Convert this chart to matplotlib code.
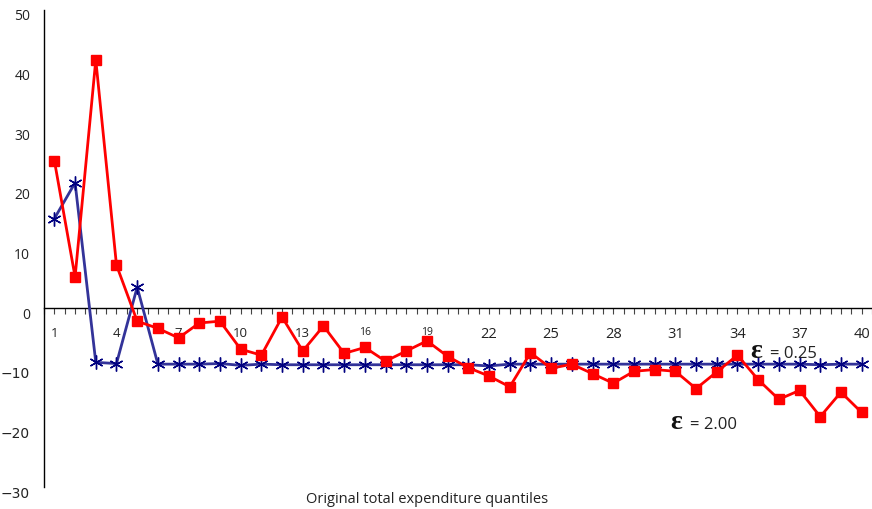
import matplotlib
matplotlib.use("Agg")
import matplotlib.pyplot as plt
import matplotlib.transforms as mtransforms

plt.rcParams['font.family'] = ['Open Sans', 'DejaVu Sans']

# quantile index
quantiles = list(range(1, 41))

# epsilon = 2.00 (red squares)
eps_200 = [24.7, 5.2, 41.6, 7.2, -2.2, -3.4, -5.0, -2.5, -2.2, -6.9,
           -7.9, -1.5, -7.2, -3.0, -7.6, -6.6, -8.9, -7.2, -5.5, -8.1,
           -10.0, -11.4, -13.2, -7.5, -10.1, -9.4, -11.0, -12.6, -10.6, -10.3,
           -10.6, -13.5, -10.7, -7.9, -12.0, -15.3, -13.8, -18.2, -14.1, -17.5]

# epsilon = 0.25 (blue asterisks)
eps_025 = [15.0, 21.0, -9.1, -9.3, 3.5, -9.4, -9.4, -9.4, -9.3, -9.6,
           -9.4, -9.5, -9.5, -9.5, -9.5, -9.5, -9.5, -9.5, -9.5, -9.5,
           -9.5, -9.7, -9.4, -9.4, -9.4, -9.4, -9.4, -9.4, -9.4, -9.4,
           -9.4, -9.4, -9.4, -9.4, -9.4, -9.4, -9.4, -9.5, -9.4, -9.4]

xtick_pos = list(range(1, 41, 3))
ytick_pos = [50, 40, 30, 20, 10, 0, -10, -20, -30]

fig = plt.figure(figsize=(8.72, 5.10), dpi=100)
ax = fig.add_axes([0.0505, 0.043, 0.9495, 0.936])

ax.plot(quantiles, eps_025, color='#333399', lw=2.0,
        marker=(6, 2, 0), ms=10, mec='#000080', mfc='#000080', mew=1.0, zorder=3)
ax.plot(quantiles, eps_200, color='#ff0000', lw=2.0,
        marker='s', ms=6.5, mec='#ff0000', mfc='#ff0000', zorder=4)

ax.set_xlim(0.5, 40.5)
ax.set_ylim(-30, 50)

ax.spines['top'].set_visible(False)
ax.spines['right'].set_visible(False)
ax.spines['bottom'].set_position(('data', 0))
ax.spines['bottom'].set_linewidth(1.0)
ax.spines['left'].set_linewidth(1.0)

ax.set_xticks(xtick_pos)
ax.set_xticks([v / 2 for v in range(1, 82)], minor=True)
ax.tick_params(axis='x', which='both', direction='out', length=4, width=0.8,
               color='#444444', pad=9, labelcolor='#222222')
ax.set_xticklabels([str(v) for v in xtick_pos])
for lab in ax.get_xticklabels():
    v = int(lab.get_text())
    if v in (16, 19):
        lab.set_fontsize(7.5)
    elif v <= 13:
        lab.set_fontsize(9.5)
    else:
        lab.set_fontsize(10.5)

ax.set_yticks(ytick_pos)
ax.set_yticklabels([('\u2212' + str(-v)) if v < 0 else str(v) for v in ytick_pos])
ax.tick_params(axis='y', length=0, pad=10, labelsize=10, labelcolor='#222222')
offset = mtransforms.ScaledTranslation(0, -4 / 100, fig.dpi_scale_trans)
for lab in ax.get_yticklabels():
    lab.set_transform(lab.get_transform() + offset)
    lab.set_family(['DejaVu Sans'] if lab.get_text().startswith('\u2212') else ['Open Sans'])

# series labels
ax.text(34.6, -7.1, '\u03b5', family='Liberation Serif', fontsize=20, fontweight='bold',
        ha='left', va='center', color='#111111')
ax.text(35.55, -7.5, '= 0.25', fontsize=12, ha='left', va='center', color='#222222')
ax.text(30.75, -19.0, '\u03b5', family='Liberation Serif', fontsize=20, fontweight='bold',
        ha='left', va='center', color='#111111')
ax.text(31.7, -19.4, '= 2.00', fontsize=12, ha='left', va='center', color='#222222')

fig.text(427 / 872, 1 - 500 / 510, 'Original total expenditure quantiles',
         ha='center', va='center', fontsize=10.5, color='#222222')

fig.savefig('out.png', dpi=100)
